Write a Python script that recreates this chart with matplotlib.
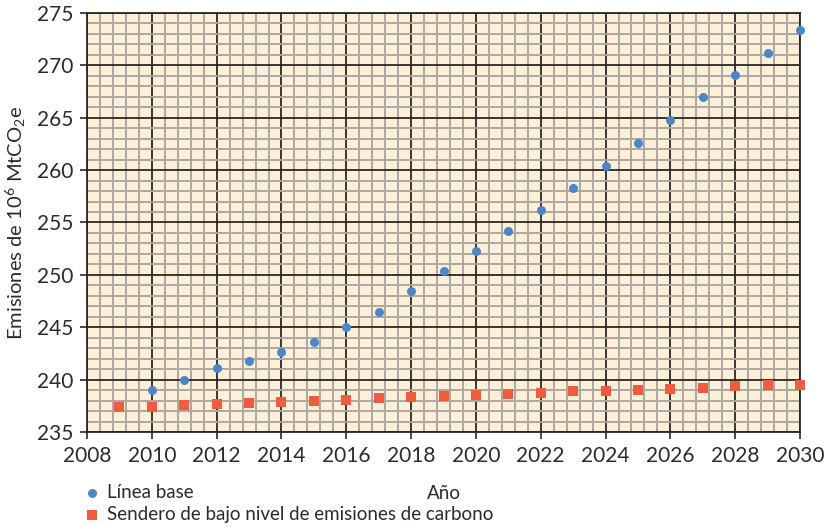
import numpy as np
import matplotlib
matplotlib.use("Agg")
import matplotlib.pyplot as plt
from matplotlib.ticker import MultipleLocator

plt.rcParams['font.family'] = ['Lato', 'DejaVu Sans']
plt.rcParams['mathtext.fontset'] = 'custom'
plt.rcParams['mathtext.rm'] = 'Lato'
plt.rcParams['mathtext.it'] = 'Lato'

# datos
anios_base = list(range(2010, 2031))
linea_base = [239.0, 240.0, 241.1, 241.8, 242.6, 243.6, 245.0, 246.5, 248.5, 250.4,
              252.3, 254.2, 256.2, 258.3, 260.4, 262.6, 264.8, 267.0, 269.1, 271.2, 273.4]
anios_sendero = list(range(2009, 2031))
sendero = [237.4, 237.4, 237.6, 237.7, 237.8, 237.9, 238.0, 238.1, 238.2, 238.3, 238.4,
           238.5, 238.6, 238.7, 238.9, 238.9, 239.0, 239.1, 239.2, 239.4, 239.5, 239.5]

fig = plt.figure(figsize=(8.25, 5.27), dpi=100)
ax = fig.add_axes([0.1055, 0.1803, 0.8642, 0.795])
ax.set_facecolor('#FEEFD9')

ax.set_xlim(2008, 2030)
ax.set_ylim(235, 275)
ax.xaxis.set_major_locator(MultipleLocator(2))
ax.xaxis.set_minor_locator(MultipleLocator(0.4))
ax.yaxis.set_major_locator(MultipleLocator(5))
ax.yaxis.set_minor_locator(MultipleLocator(1))
ax.grid(which='minor', color='#ADA8A2', linewidth=1.4, zorder=0)
ax.grid(which='major', color='#2B2724', linewidth=1.3, zorder=1)
ax.set_axisbelow(True)

for s in ax.spines.values():
    s.set_color('#2B2724')
    s.set_linewidth(1.3)

ax.tick_params(which='minor', length=0)
ax.tick_params(which='major', length=5, width=1.2, color='#2B2724',
               labelsize=15, labelcolor='#2F2A26', pad=5)

ax.scatter(anios_base, linea_base, s=42, marker='o', color='#4A86C8', zorder=3,
           linewidths=0, label='Línea base', clip_on=False)
ax.scatter(anios_sendero, sendero, s=60, marker='s', color='#F15B3F', zorder=3,
           linewidths=0, label='Sendero de bajo nivel de emisiones de carbono', clip_on=False)

ax.set_xlabel('Año', fontsize=13.5, color='#2F2A26', labelpad=14)
ax.set_ylabel('Emisiones de 10$^{6}$ MtCO$_{2}$e', fontsize=14.5, color='#2F2A26', labelpad=6)

fig.legend(loc='lower left', bbox_to_anchor=(0.08, -0.025), frameon=False, fontsize=13.5,
           handletextpad=0.3, labelspacing=0.3, handlelength=1.0,
           labelcolor='#2F2A26')

fig.savefig('out.png', dpi=100)
